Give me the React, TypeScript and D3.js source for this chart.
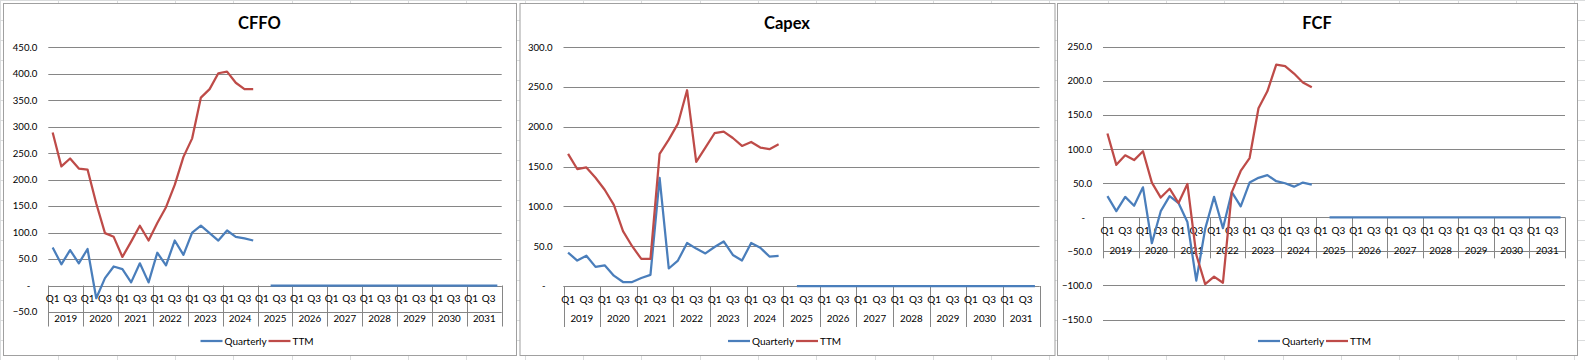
import * as d3 from "d3";

// category axis: 13 years x 4 quarters
const years = ["2019", "2020", "2021", "2022", "2023", "2024", "2025", "2026", "2027", "2028", "2029", "2030", "2031"];
const quarters = ["Q1", "Q2", "Q3", "Q4"];
const shownQuarters = ["Q1", "Q3"];
const legendNames = ["Quarterly", "TTM"];

// 2019Q1..2024Q4 actuals, 2025Q1 blank, 2025Q2..2031Q4 zero
const cffoQuarterly = [
  72, 40, 67, 42, 69, -24, 14, 36, 31, 6, 42, 6, 62, 38, 85, 58, 100, 113, 99, 85, 104, 92, 89, 85,
  null, 0, 0, 0, 0, 0, 0, 0, 0, 0, 0, 0, 0, 0, 0, 0, 0, 0, 0, 0, 0, 0, 0, 0, 0, 0, 0, 0,
];
const cffoTTM = [
  289, 225, 240, 221, 219, 155, 99, 92, 54, 83, 113, 85, 118, 148, 190, 243, 278, 355, 371, 401, 404, 383, 371, 371,
];

const capexQuarterly = [
  42, 32, 38, 24, 26, 13, 5, 5, 10, 14, 136, 22, 32, 54, 47, 41, 49, 56, 39, 32, 54, 48, 37, 38,
  null, 0, 0, 0, 0, 0, 0, 0, 0, 0, 0, 0, 0, 0, 0, 0, 0, 0, 0, 0, 0, 0, 0, 0, 0, 0, 0, 0,
];
const capexTTM = [
  166, 147, 149, 136, 121, 102, 69, 50, 34, 34, 166, 184, 204, 246, 156, 174, 192, 194, 186, 176, 181, 174, 172, 178,
];

const fcfQuarterly = [
  31, 9, 30, 17, 44, -38, 9, 31, 21, -7, -93, -17, 30, -16, 37, 16, 51, 58, 62, 53, 50, 45, 51, 48,
  null, 0, 0, 0, 0, 0, 0, 0, 0, 0, 0, 0, 0, 0, 0, 0, 0, 0, 0, 0, 0, 0, 0, 0, 0, 0, 0, 0,
];
const fcfTTM = [
  123, 77, 91, 84, 97, 51, 29, 42, 21, 49, -55, -98, -87, -96, 37, 68, 87, 160, 185, 224, 222, 211, 198, 191,
];

const cffoTicks = [-50, 0, 50, 100, 150, 200, 250, 300, 350, 400, 450];
const capexTicks = [0, 50, 100, 150, 200, 250, 300];
const fcfTicks = [-150, -100, -50, 0, 50, 100, 150, 200, 250];

const BLUE = "#4a7ebb";
const RED = "#be4b48";
const GRID = "#868686";
const FONT = "Lato, 'Open Sans', sans-serif";

const W = 1585;
const H = 360;

interface Cat {
  year: string;
  q: string;
  key: string;
}
const categories: Cat[] = years.flatMap((y) => quarters.map((q) => ({ year: y, q, key: `${y}-${q}` })));

interface ChartProps {
  title: string;
  quarterly: (number | null)[];
  ttm: (number | null)[];
  ticks: number[];
  box: { x0: number; x1: number; y0: number; y1: number };
  plot: { left: number; right: number; top: number; bottom: number };
}

const fmt = d3.format(".1f");

function Chart({ title, quarterly, ttm, ticks, box, plot }: ChartProps) {
  const x = d3
    .scaleBand<string>()
    .domain(categories.map((c) => c.key))
    .range([plot.left, plot.right]);
  const bw = x.bandwidth();
  const cx = (i: number) => (x(categories[i].key) ?? 0) + bw / 2;

  const y = d3
    .scaleLinear()
    .domain([d3.min(ticks) ?? 0, d3.max(ticks) ?? 1])
    .range([plot.bottom, plot.top]);
  const y0 = y(0);

  const line = d3
    .line<number | null>()
    .defined((d) => d != null)
    .x((_, i) => cx(i))
    .y((d) => y(d as number));

  const midX = (box.x0 + box.x1) / 2;
  const labelRight = plot.left - 11;

  // year boundaries
  const bounds = years.map((yr) => x(`${yr}-Q1`) ?? 0).concat([plot.right]);

  const legendY = 341;
  const legendW = 118;
  const lx = midX - legendW / 2;

  return (
    <g>
      <rect
        x={box.x0 + 0.5}
        y={box.y0 + 0.5}
        width={box.x1 - box.x0}
        height={box.y1 - box.y0}
        fill="#fff"
        stroke="#a0a0a0"
        strokeWidth={1}
      />
      <text x={midX} y={29} textAnchor="middle" fontFamily={FONT} fontWeight={700} fontSize={16.5} fill="#000">
        {title}
      </text>

      {/* gridlines */}
      {ticks.map((t) => (
        <line
          key={t}
          x1={plot.left}
          x2={plot.right}
          y1={Math.round(y(t)) + 0.5}
          y2={Math.round(y(t)) + 0.5}
          stroke={GRID}
          strokeWidth={1}
        />
      ))}
      {ticks.map((t) => (
        <text
          key={"l" + t}
          x={t === 0 ? labelRight - 7 : labelRight}
          y={y(t)}
          dy="0.35em"
          textAnchor="end"
          fontFamily={FONT}
          fontSize={9.6}
          fill="#000"
        >
          {t === 0 ? "-" : fmt(t)}
        </text>
      ))}

      {/* category axis */}
      <line x1={plot.left} x2={plot.right} y1={Math.round(y0) + 0.5} y2={Math.round(y0) + 0.5} stroke={GRID} />
      {bounds.map((b, i) => (
        <line
          key={"b" + i}
          x1={Math.round(b) + 0.5}
          x2={Math.round(b) + 0.5}
          y1={y0}
          y2={y0 + 41}
          stroke={GRID}
        />
      ))}
      {categories.map((c, i) =>
        shownQuarters.includes(c.q) ? (
          <text
            key={"q" + c.key}
            x={cx(i)}
            y={y0 + 13}
            dy="0.35em"
            textAnchor="middle"
            fontFamily={FONT}
            fontSize={10}
            fill="#000"
          >
            {c.q}
          </text>
        ) : null
      )}
      {years.map((yr, i) => (
        <text
          key={"y" + yr}
          x={(bounds[i] + bounds[i + 1]) / 2}
          y={y0 + 33}
          dy="0.35em"
          textAnchor="middle"
          fontFamily={FONT}
          fontSize={9.8}
          fill="#000"
        >
          {yr}
        </text>
      ))}

      {/* series */}
      <path d={line(quarterly) ?? ""} fill="none" stroke={BLUE} strokeWidth={2.25} strokeLinejoin="round" />
      <path d={line(ttm) ?? ""} fill="none" stroke={RED} strokeWidth={2.25} strokeLinejoin="round" />

      {/* legend */}
      <line x1={lx} x2={lx + 22} y1={legendY} y2={legendY} stroke={BLUE} strokeWidth={2.25} />
      <text x={lx + 24} y={legendY} dy="0.35em" fontFamily={FONT} fontSize={10} fill="#000">
        {legendNames[0]}
      </text>
      <line x1={lx + 68} x2={lx + 90} y1={legendY} y2={legendY} stroke={RED} strokeWidth={2.25} />
      <text x={lx + 92} y={legendY} dy="0.35em" fontFamily={FONT} fontSize={10} fill="#000">
        {legendNames[1]}
      </text>
    </g>
  );
}

export default function App() {
  const cols = d3.range(0, W, 58.3);
  const rows = d3.range(0, H, 20);
  return (
    <div style={{ position: "absolute", left: 0, top: 0 }}>
      <svg width={W} height={H} style={{ display: "block", background: "#fff" }}>
        {cols.map((c, i) => (
          <line key={"c" + i} x1={Math.round(c) + 0.5} x2={Math.round(c) + 0.5} y1={0} y2={H} stroke="#dadcdd" />
        ))}
        {rows.map((r, i) => (
          <line key={"r" + i} x1={0} x2={W} y1={r + 0.5} y2={r + 0.5} stroke="#dadcdd" />
        ))}
        <Chart
          title="CFFO"
          quarterly={cffoQuarterly}
          ttm={cffoTTM}
          ticks={cffoTicks}
          box={{ x0: 3, x1: 516, y0: 3, y1: 355 }}
          plot={{ left: 48.3, right: 501.7, top: 47.3, bottom: 312 }}
        />
        <Chart
          title="Capex"
          quarterly={capexQuarterly}
          ttm={capexTTM}
          ticks={capexTicks}
          box={{ x0: 519.5, x1: 1054.5, y0: 3, y1: 355 }}
          plot={{ left: 563.5, right: 1039.5, top: 47.3, bottom: 286 }}
        />
        <Chart
          title="FCF"
          quarterly={fcfQuarterly}
          ttm={fcfTTM}
          ticks={fcfTicks}
          box={{ x0: 1057, x1: 1577, y0: 3, y1: 355 }}
          plot={{ left: 1103, right: 1565, top: 47, bottom: 319.5 }}
        />
      </svg>
    </div>
  );
}
